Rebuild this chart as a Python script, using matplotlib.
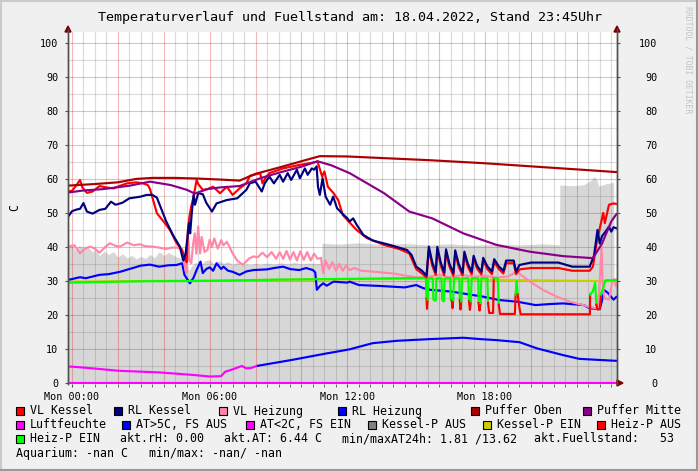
import matplotlib
matplotlib.use('Agg')
import matplotlib.pyplot as plt
from matplotlib.patches import Rectangle, Polygon
from matplotlib.lines import Line2D

# ---------------- data (hours since Mon 00:00, degC) ----------------
puffer_oben = [(-0.17, 58.0), (0, 58.1), (1, 58.5), (2, 59.0), (2.8, 60.0), (3.5, 60.3), (4.5, 60.3),
               (5.5, 60.1), (6.5, 59.8), (7.3, 59.5), (8.0, 61.5), (9.0, 63.3), (10.0, 65.2), (10.8, 66.7),
               (12.0, 66.6), (15.6, 65.5), (18.0, 64.6), (20.0, 63.7), (22.0, 62.8), (23.75, 62.0)]

puffer_mitte = [(-0.17, 56.0), (0.5, 56.6), (1.35, 57.0), (2.5, 58.0), (3.4, 59.2), (4.3, 58.2), (5.0, 56.8),
                (5.35, 55.7), (5.9, 57.0), (6.45, 57.5), (7.3, 57.9), (8.2, 60.2), (9.0, 61.8), (10.0, 63.6),
                (10.7, 65.2), (11.3, 64.0), (12.1, 61.7), (13.6, 55.8), (14.7, 50.4), (15.7, 48.4), (16.5, 45.8),
                (17.05, 44.0), (18.5, 40.6), (19.95, 38.6), (21.4, 37.3), (22.7, 36.7), (23.1, 41.0), (23.5, 47.5),
                (23.75, 49.9)]

rl_kessel = [(-0.17, 48.9), (0.0, 50.5), (0.2, 51.0), (0.35, 51.2), (0.5, 52.9), (0.65, 50.4), (0.9, 49.8),
             (1.2, 50.9), (1.45, 51.2), (1.7, 53.3), (1.9, 52.4), (2.2, 53.0), (2.5, 54.3), (3.0, 54.8),
             (3.25, 55.3), (3.5, 55.3), (3.7, 54.5), (3.85, 51.9), (4.1, 47.6), (4.4, 43.5), (4.7, 40.1),
             (4.85, 36.0), (4.95, 38.0), (5.05, 44.0), (5.1, 47.0), (5.15, 44.0), (5.22, 50.0), (5.3, 55.3),
             (5.36, 52.4), (5.5, 55.8), (5.7, 55.5), (5.85, 53.0), (6.1, 50.4), (6.3, 52.8), (6.75, 53.8),
             (7.2, 54.3), (7.6, 56.8), (7.75, 58.7), (8.0, 59.2), (8.27, 56.3), (8.4, 58.7), (8.6, 60.7),
             (8.8, 58.7), (9.05, 61.2), (9.2, 59.2), (9.4, 61.7), (9.55, 59.7), (9.8, 62.7), (9.93, 60.2),
             (10.15, 63.1), (10.27, 61.2), (10.45, 63.1), (10.55, 62.7), (10.66, 63.7), (10.72, 57.7),
             (10.8, 55.3), (10.92, 60.2), (11.05, 54.8), (11.25, 52.4), (11.38, 54.8), (11.55, 51.4),
             (11.75, 50.0), (12.0, 48.4), (12.1, 47.5), (12.25, 48.4), (12.4, 46.6), (12.7, 43.5), (13.1, 41.9),
             (13.85, 40.6), (14.6, 39.1), (14.8, 37.6), (15.0, 34.2), (15.25, 33.0), (15.45, 31.6),
             (15.55, 40.1), (15.7, 35.5), (15.85, 32.6), (15.92, 40.0), (16.07, 35.4), (16.22, 32.5),
             (16.3, 39.3), (16.45, 35.0), (16.62, 32.3), (16.7, 39.0), (16.85, 35.0), (17.02, 32.4),
             (17.1, 38.6), (17.25, 35.0), (17.42, 32.7), (17.5, 37.4), (17.65, 34.5), (17.84, 32.7),
             (17.92, 36.8), (18.1, 34.3), (18.3, 32.8), (18.4, 36.4), (18.6, 34.3), (18.8, 33.0),
             (18.92, 36.0), (19.25, 36.0), (19.35, 32.7), (19.5, 34.7), (20.0, 35.4), (21.2, 35.4),
             (21.8, 34.2), (22.56, 34.2), (22.75, 37.5), (22.9, 45.0), (23.0, 41.0), (23.1, 43.2),
             (23.25, 44.5), (23.4, 46.0), (23.5, 44.5), (23.6, 45.8), (23.75, 45.4)]

vl_kessel = [(-0.17, 56.3), (0.0, 56.5), (0.2, 58.2), (0.35, 59.7), (0.45, 57.5), (0.65, 55.9), (0.9, 56.3),
             (1.2, 57.9), (1.5, 57.5), (1.8, 57.2), (2.1, 58.0), (2.4, 58.7), (2.8, 59.0), (3.1, 58.7),
             (3.3, 58.2), (3.4, 57.0), (3.7, 49.9), (4.0, 47.4), (4.27, 45.0), (4.56, 41.1), (4.8, 39.1),
             (4.95, 36.0), (5.0, 35.5), (5.05, 45.0), (5.12, 49.0), (5.2, 52.0), (5.3, 54.8), (5.43, 59.7),
             (5.5, 58.5), (5.7, 56.8), (5.9, 57.0), (6.15, 57.7), (6.45, 55.8), (6.75, 57.7), (7.0, 55.3),
             (7.3, 57.2), (7.6, 58.7), (7.75, 60.9), (8.2, 61.7), (8.3, 58.7), (8.45, 60.5), (8.6, 61.7),
             (9.2, 63.1), (9.9, 64.1), (10.5, 64.8), (10.7, 65.1), (10.9, 60.7), (11.0, 62.2), (11.15, 57.7),
             (11.4, 55.8), (11.6, 53.8), (11.8, 49.4), (12.0, 47.9), (12.4, 45.0), (12.85, 42.6), (13.6, 40.6),
             (14.3, 39.3), (14.7, 38.1), (15.0, 33.5), (15.25, 32.2), (15.45, 31.0),
             (15.55, 39.2), (15.7, 34.5), (15.85, 31.8), (15.92, 39.2), (16.07, 34.5), (16.22, 31.7),
             (16.3, 38.5), (16.45, 34.2), (16.62, 31.5), (16.7, 38.2), (16.85, 34.2), (17.02, 31.6),
             (17.1, 37.8), (17.25, 34.2), (17.42, 31.9), (17.5, 36.6), (17.65, 33.7), (17.84, 31.9),
             (17.92, 36.0), (18.1, 33.5), (18.3, 32.0), (18.4, 35.6), (18.6, 33.5), (18.8, 32.2),
             (18.92, 35.2), (19.25, 35.2), (19.35, 32.0), (19.5, 33.4), (20.0, 33.8), (21.2, 33.8),
             (21.8, 33.0), (22.56, 33.0), (22.7, 34.2), (22.86, 41.1), (22.95, 44.0), (23.08, 47.9),
             (23.15, 50.0), (23.22, 47.0), (23.3, 49.4), (23.4, 52.4), (23.6, 52.8), (23.75, 52.6)]

vl_heizung = [(-0.17, 40.1), (0.1, 40.5), (0.35, 38.1), (0.55, 39.5), (0.8, 40.1), (1.0, 39.5), (1.2, 38.3),
              (1.45, 40.0), (1.65, 41.1), (1.9, 40.3), (2.1, 40.1), (2.4, 41.3), (2.7, 40.5), (2.96, 40.8),
              (3.2, 40.2), (3.5, 40.1), (3.8, 39.8), (4.1, 39.4), (4.35, 39.8), (4.56, 39.8), (4.75, 39.5),
              (4.85, 37.6), (4.95, 33.0), (5.0, 32.4), (5.06, 42.9), (5.12, 36.0), (5.2, 35.2), (5.28, 41.0),
              (5.35, 44.0), (5.42, 38.0), (5.5, 46.0), (5.58, 38.1), (5.65, 42.9), (5.78, 38.5), (5.9, 39.1),
              (6.0, 42.1), (6.1, 40.0), (6.2, 42.5), (6.35, 39.5), (6.5, 42.0), (6.6, 40.5), (6.75, 41.5),
              (6.9, 39.5), (7.0, 38.1), (7.2, 36.0), (7.45, 34.7), (7.7, 36.5), (7.9, 37.2), (8.1, 37.0),
              (8.3, 38.3), (8.5, 37.0), (8.7, 38.5), (8.9, 36.5), (9.05, 38.5), (9.2, 36.5), (9.35, 38.8),
              (9.5, 36.3), (9.65, 38.5), (9.8, 36.0), (9.95, 38.7), (10.1, 36.2), (10.25, 38.5), (10.4, 36.0),
              (10.55, 38.0), (10.7, 36.5), (10.85, 36.8), (10.95, 32.3), (11.05, 36.0), (11.2, 33.5),
              (11.35, 35.5), (11.5, 33.0), (11.65, 35.0), (11.8, 33.0), (11.95, 34.5), (12.1, 33.2),
              (12.3, 33.8), (12.6, 33.0), (13.0, 32.8), (13.5, 32.5), (14.0, 32.2), (14.5, 31.6), (15.0, 31.1),
              (15.45, 31.1), (16.0, 31.8), (16.5, 31.0), (17.0, 31.8), (17.5, 31.2), (18.0, 31.5), (18.5, 31.0),
              (19.0, 31.3), (19.38, 32.7), (19.96, 29.8), (20.54, 27.3), (21.12, 25.4), (21.7, 23.9),
              (22.28, 22.9), (22.57, 22.3), (22.9, 21.9), (23.0, 30.0), (23.08, 40.0), (23.12, 30.0),
              (23.2, 25.0), (23.4, 24.5), (23.55, 30.0), (23.62, 30.5), (23.7, 28.5), (23.75, 29.5)]

rl_heizung = [(-0.17, 30.3), (0.35, 31.1), (0.6, 30.8), (1.2, 31.8), (1.6, 32.0), (2.1, 32.7), (2.5, 33.5),
              (3.0, 34.5), (3.4, 34.8), (3.8, 34.2), (4.2, 34.6), (4.56, 34.7), (4.8, 35.2), (4.9, 31.8),
              (5.14, 29.3), (5.3, 31.0), (5.43, 33.2), (5.6, 35.7), (5.7, 32.3), (5.85, 33.5), (6.0, 34.0),
              (6.15, 33.0), (6.3, 35.2), (6.5, 33.5), (6.6, 34.2), (6.8, 33.0), (7.0, 32.7), (7.3, 31.8),
              (7.6, 32.8), (7.9, 33.2), (8.5, 33.4), (8.8, 33.8), (9.2, 34.2), (9.5, 33.5), (9.9, 33.2),
              (10.2, 33.8), (10.5, 33.2), (10.6, 32.5), (10.67, 27.4), (10.8, 28.5), (10.95, 29.3),
              (11.1, 28.6), (11.4, 29.8), (12.0, 29.5), (12.1, 29.8), (12.5, 28.8), (13.5, 28.5), (14.5, 28.1),
              (15.0, 28.8), (15.3, 27.9), (15.6, 27.4), (16.5, 26.9), (17.9, 25.4), (18.6, 24.4), (19.4, 23.9),
              (20.2, 22.9), (20.8, 23.2), (21.4, 23.4), (22.3, 22.9), (22.56, 22.0), (23.0, 21.7), (23.1, 24.4),
              (23.2, 27.3), (23.35, 26.5), (23.6, 24.5), (23.75, 25.5)]

at_low = [(-0.17, 4.8), (0.0, 4.8), (0.9, 4.3), (2.0, 3.6), (3.83, 3.1), (5.3, 2.35), (6.0, 1.9), (6.5, 2.0),
          (6.67, 3.3), (7.0, 4.0), (7.4, 5.0), (7.6, 4.3), (7.8, 4.4), (8.05, 5.0)]
at_high = [(8.05, 5.0), (9.6, 6.8), (11.1, 8.7), (11.53, 9.2), (12.1, 9.9), (13.1, 11.7), (14.15, 12.4),
           (15.6, 12.9), (17.05, 13.3), (17.8, 12.9), (18.5, 12.6), (19.5, 12.0), (20.25, 10.2), (21.4, 8.2),
           (22.1, 7.1), (22.9, 6.8), (23.75, 6.5)]

luftfeuchte = [(-0.17, 0.0), (23.75, 0.0)]

fuellstand = [(-0.17, 41.0), (0.0, 40.5), (0.15, 39.0), (0.3, 40.5), (0.5, 39.5), (0.7, 40.0), (0.9, 38.5),
              (1.0, 39.5), (1.2, 37.5), (1.4, 38.8), (1.6, 37.8), (1.8, 38.6), (2.0, 37.0), (2.2, 38.0),
              (2.4, 36.8), (2.6, 37.5), (2.8, 36.5), (3.0, 37.2), (3.2, 36.6), (3.4, 37.8), (3.6, 36.8),
              (3.8, 38.6), (4.0, 37.5), (4.2, 38.4), (4.4, 37.6), (4.6, 37.0), (4.8, 36.5), (5.0, 35.7),
              (5.1, 33.0), (5.2, 34.3), (5.4, 35.5), (5.6, 34.5), (5.8, 36.0), (6.0, 36.2), (6.2, 35.0),
              (6.4, 36.0), (6.6, 35.2), (6.8, 35.7), (7.0, 34.8), (7.2, 35.5), (7.4, 34.6), (7.6, 35.0),
              (7.8, 34.8), (8.0, 35.2), (8.2, 34.8), (8.5, 35.3), (8.8, 34.9), (9.1, 35.3), (9.4, 35.0),
              (9.7, 35.4), (10.0, 35.0), (10.3, 35.3), (10.6, 35.1), (10.88, 35.2), (10.9, 41.1), (11.5, 40.8),
              (12.5, 41.2), (13.5, 40.7), (14.5, 41.0), (15.5, 40.6), (16.5, 40.9), (17.5, 40.5), (18.5, 40.8),
              (19.5, 40.6), (20.5, 40.9), (21.24, 40.6), (21.26, 58.2), (21.8, 58.0), (22.3, 58.3),
              (22.6, 59.5), (22.75, 60.7), (22.85, 60.0), (22.95, 57.9), (23.1, 58.2), (23.3, 58.6),
              (23.6, 59.0), (23.62, 31.0), (23.75, 31.0)]

kessel_p_ein = [(-0.17, 29.8), (12.0, 30.5), (15.45, 30.6), (20.0, 30.2), (23.75, 29.9)]

# Heiz-P line: (hour, value, state) state 1 = EIN (green), 0 = AUS (red) for the segment starting there
heiz_p = [(-0.17, 29.5, 1), (3.0, 29.9, 1), (6.0, 30.0, 1), (9.0, 30.4, 1), (12.0, 30.6, 1), (15.42, 30.9, 1),
          (15.45, 24.8, 0), (15.47, 21.8, 0), (15.5, 24.5, 1), (15.53, 30.8, 1), (15.72, 30.8, 1),
          (15.75, 24.5, 1), (15.85, 24.2, 1), (15.88, 30.8, 1), (16.1, 30.8, 1), (16.13, 24.5, 1),
          (16.2, 24.0, 1), (16.24, 30.8, 1), (16.48, 30.8, 1), (16.5, 24.5, 1), (16.55, 24.2, 0),
          (16.58, 22.0, 0), (16.61, 24.3, 1), (16.65, 30.8, 1), (16.88, 30.8, 1), (16.9, 24.3, 0),
          (16.93, 21.6, 0), (16.96, 24.0, 1), (17.0, 30.8, 1), (17.27, 30.8, 1), (17.3, 24.0, 0),
          (17.34, 21.5, 0), (17.38, 24.0, 1), (17.42, 30.8, 1), (17.7, 30.8, 1), (17.72, 23.5, 0),
          (17.76, 21.3, 0), (17.8, 23.5, 1), (17.84, 30.8, 1), (18.1, 30.8, 1), (18.13, 23.5, 0),
          (18.18, 20.6, 0), (18.35, 20.6, 0), (18.38, 30.8, 1), (18.55, 30.8, 1), (18.6, 23.0, 0),
          (18.65, 20.3, 0), (19.3, 20.3, 0), (19.33, 26.0, 1), (19.38, 30.0, 1), (19.42, 26.0, 0),
          (19.5, 22.0, 0), (19.55, 20.2, 0), (22.57, 20.2, 0), (22.58, 26.0, 1), (22.7, 27.0, 1),
          (22.8, 29.5, 1), (22.85, 23.0, 0), (22.9, 21.6, 0), (23.0, 21.8, 0), (23.05, 26.0, 1),
          (23.15, 28.0, 1), (23.25, 30.2, 1), (23.75, 30.2, 1)]

title = 'Temperaturverlauf und Fuellstand am: 18.04.2022, Stand 23:45Uhr'
x_tick_pos = [0, 6, 12, 18]
x_tick_labels = ['Mon 00:00', 'Mon 06:00', 'Mon 12:00', 'Mon 18:00']
y_ticks = [0, 10, 20, 30, 40, 50, 60, 70, 80, 90, 100]

legend_rows = [
    [('#FF0000', 'VL Kessel', 30), ('#000080', 'RL Kessel', 128), ('#FF88A8', 'VL Heizung', 233),
     ('#0000FF', 'RL Heizung', 352), ('#AA0000', 'Puffer Oben', 485), ('#880088', 'Puffer Mitte', 597)],
    [('#FF00FF', 'Luftfeuchte', 30), ('#0000FF', 'AT>5C, FS AUS', 136), ('#FF00FF', 'AT<2C, FS EIN', 260),
     ('#808080', 'Kessel-P AUS', 382), ('#CCCC00', 'Kessel-P EIN', 497), ('#FF0000', 'Heiz-P AUS', 611)],
    [('#00FF00', 'Heiz-P EIN', 30), (None, 'akt.rH: 0.00', 120), (None, 'akt.AT: 6.44 C', 223.5),
     (None, 'min/maxAT24h: 1.81 /13.62', 342), (None, 'akt.Fuellstand:   53', 534)],
    [(None, 'Aquarium: -nan C   min/max: -nan/ -nan', 16)],
]
legend_row_y = [411, 425, 439, 453]

# ---------------- figure ----------------
W, H = 698, 471
MONO = 'DejaVu Sans Mono'
fig = plt.figure(figsize=(W / 100, H / 100), dpi=100, facecolor='#F0F0F0')


def fx(px):
    return px / W


def fy(py):
    return 1 - py / H


L, R, T, B = 68, 617, 32, 384
ax = fig.add_axes([fx(L), fy(B), (R - L) / W, (B - T) / H])
ax.set_facecolor('white')
ax.set_xlim(-0.174, 23.75)
ax.set_ylim(-0.3, 103.2)


def unz(pairs):
    return [p[0] for p in pairs], [p[1] for p in pairs]


# area
tx, vy = unz(fuellstand)
ax.fill_between(tx, 0, vy, color='#D7D7D7', lw=0, zorder=1)

# grid (drawn over the area, under the lines)
for h in [i * 0.5 for i in range(0, 48)]:
    major = abs(h / 2 - round(h / 2)) < 1e-9
    ax.axvline(h, color=(0.85, 0.1, 0.1, 0.30) if major else (0.45, 0.45, 0.45, 0.25), lw=0.8, zorder=1.5)
for v in range(5, 105, 5):
    major = v % 10 == 0
    ax.axhline(v, color=(0.85, 0.1, 0.1, 0.30) if major else (0.45, 0.45, 0.45, 0.25), lw=0.8, zorder=1.5)

LW = 1.55


def line(pairs, color, z=3):
    a, b = unz(pairs)
    ax.plot(a, b, color=color, lw=LW, zorder=z, solid_joinstyle='round', solid_capstyle='butt')


line(kessel_p_ein, '#CCCC00', 2.2)
line(at_low, '#FF00FF')
line(at_high, '#0000FF')
line(rl_heizung, '#0000FF')
line(vl_heizung, '#FF88A8')

# Heiz-P: split by state
run = [heiz_p[0]]
for i in range(1, len(heiz_p)):
    run.append(heiz_p[i])
    if heiz_p[i][2] != heiz_p[i - 1][2] or i == len(heiz_p) - 1:
        st = heiz_p[i - 1][2]
        ax.plot([p[0] for p in run], [p[1] for p in run], color='#00FF00' if st else '#FF0000',
                lw=LW, zorder=3.2, solid_joinstyle='round')
        run = [heiz_p[i]]

line(vl_kessel, '#FF0000', 3.4)
line(rl_kessel, '#000080', 3.5)
line(puffer_mitte, '#880088', 3.6)
line(puffer_oben, '#AA0000', 3.7)
line(luftfeuchte, '#FF00FF', 4)

# axes styling
for s in ['top', 'bottom']:
    ax.spines[s].set_visible(False)
ax.spines['left'].set_color('#505050')
ax.spines['right'].set_color('#505050')
ax.spines['left'].set_linewidth(1.0)
ax.spines['right'].set_linewidth(1.0)

ax.set_xticks(x_tick_pos)
ax.set_xticklabels(x_tick_labels, family=MONO, fontsize=7.3)
ax.set_xticks([i * 0.5 for i in range(0, 48)], minor=True)
ax.tick_params(axis='x', which='both', length=2, color='#505050', pad=4)
ax.set_yticks(y_ticks)
ax.set_yticklabels([str(v) for v in y_ticks], family=MONO, fontsize=7.3)
ax.tick_params(axis='y', length=2, color='#505050', pad=5)

ax2 = ax.twinx()
ax2.set_ylim(ax.get_ylim())
ax2.set_yticks(y_ticks)
ax2.set_yticklabels([str(v) for v in y_ticks], family=MONO, fontsize=7.3)
ax2.tick_params(axis='y', length=2, color='#505050', pad=27)
for lab in ax2.get_yticklabels():
    lab.set_horizontalalignment('right')
for s in ['top', 'bottom', 'left', 'right']:
    ax2.spines[s].set_visible(False)

# axis extension lines and arrows (figure pixel space)
AR = '#7A0000'
fig.add_artist(Line2D([fx(L), fx(L)], [fy(B), fy(29)], color='#505050', lw=1.0))
fig.add_artist(Line2D([fx(R), fx(R)], [fy(B), fy(29)], color='#505050', lw=1.0))
fig.add_artist(Polygon([[fx(L), fy(26)], [fx(L - 3), fy(32)], [fx(L + 3), fy(32)]], closed=True, color=AR))
fig.add_artist(Polygon([[fx(R), fy(26)], [fx(R - 3), fy(32)], [fx(R + 3), fy(32)]], closed=True, color=AR))
fig.add_artist(Polygon([[fx(623), fy(383)], [fx(617), fy(380)], [fx(617), fy(386)]], closed=True, color=AR))

# frame border
fig.add_artist(Line2D([0, 1], [fy(0.5), fy(0.5)], color='#CBCBCB', lw=1.5))
fig.add_artist(Line2D([fx(0.5), fx(0.5)], [0, 1], color='#CBCBCB', lw=1.5))
fig.add_artist(Line2D([0, 1], [fy(470.2), fy(470.2)], color='#999999', lw=1.5))
fig.add_artist(Line2D([fx(697.2), fx(697.2)], [0, 1], color='#999999', lw=1.5))

# texts
fig.text(fx(350), fy(17), title, ha='center', va='center', family=MONO, fontsize=9.6, color='black')
fig.text(fx(15), fy(208), 'C', ha='center', va='center', rotation=90, family=MONO, fontsize=8.3)
fig.text(fx(688), fy(6), 'RRDTOOL / TOBI OETIKER', ha='center', va='top', rotation=270,
         family=MONO, fontsize=5.9, color='#C4C4C4')

for row, yy in zip(legend_rows, legend_row_y):
    for color, label, x0 in row:
        if color is not None:
            fig.add_artist(Rectangle((fx(x0 - 14), fy(yy + 4)), 8 / W, 8 / H, facecolor=color,
                                     edgecolor='black', lw=0.8))
        fig.text(fx(x0), fy(yy), label, ha='left', va='center', family=MONO, fontsize=8.35, color='black')

fig.savefig('out.png', dpi=100, facecolor=fig.get_facecolor())
